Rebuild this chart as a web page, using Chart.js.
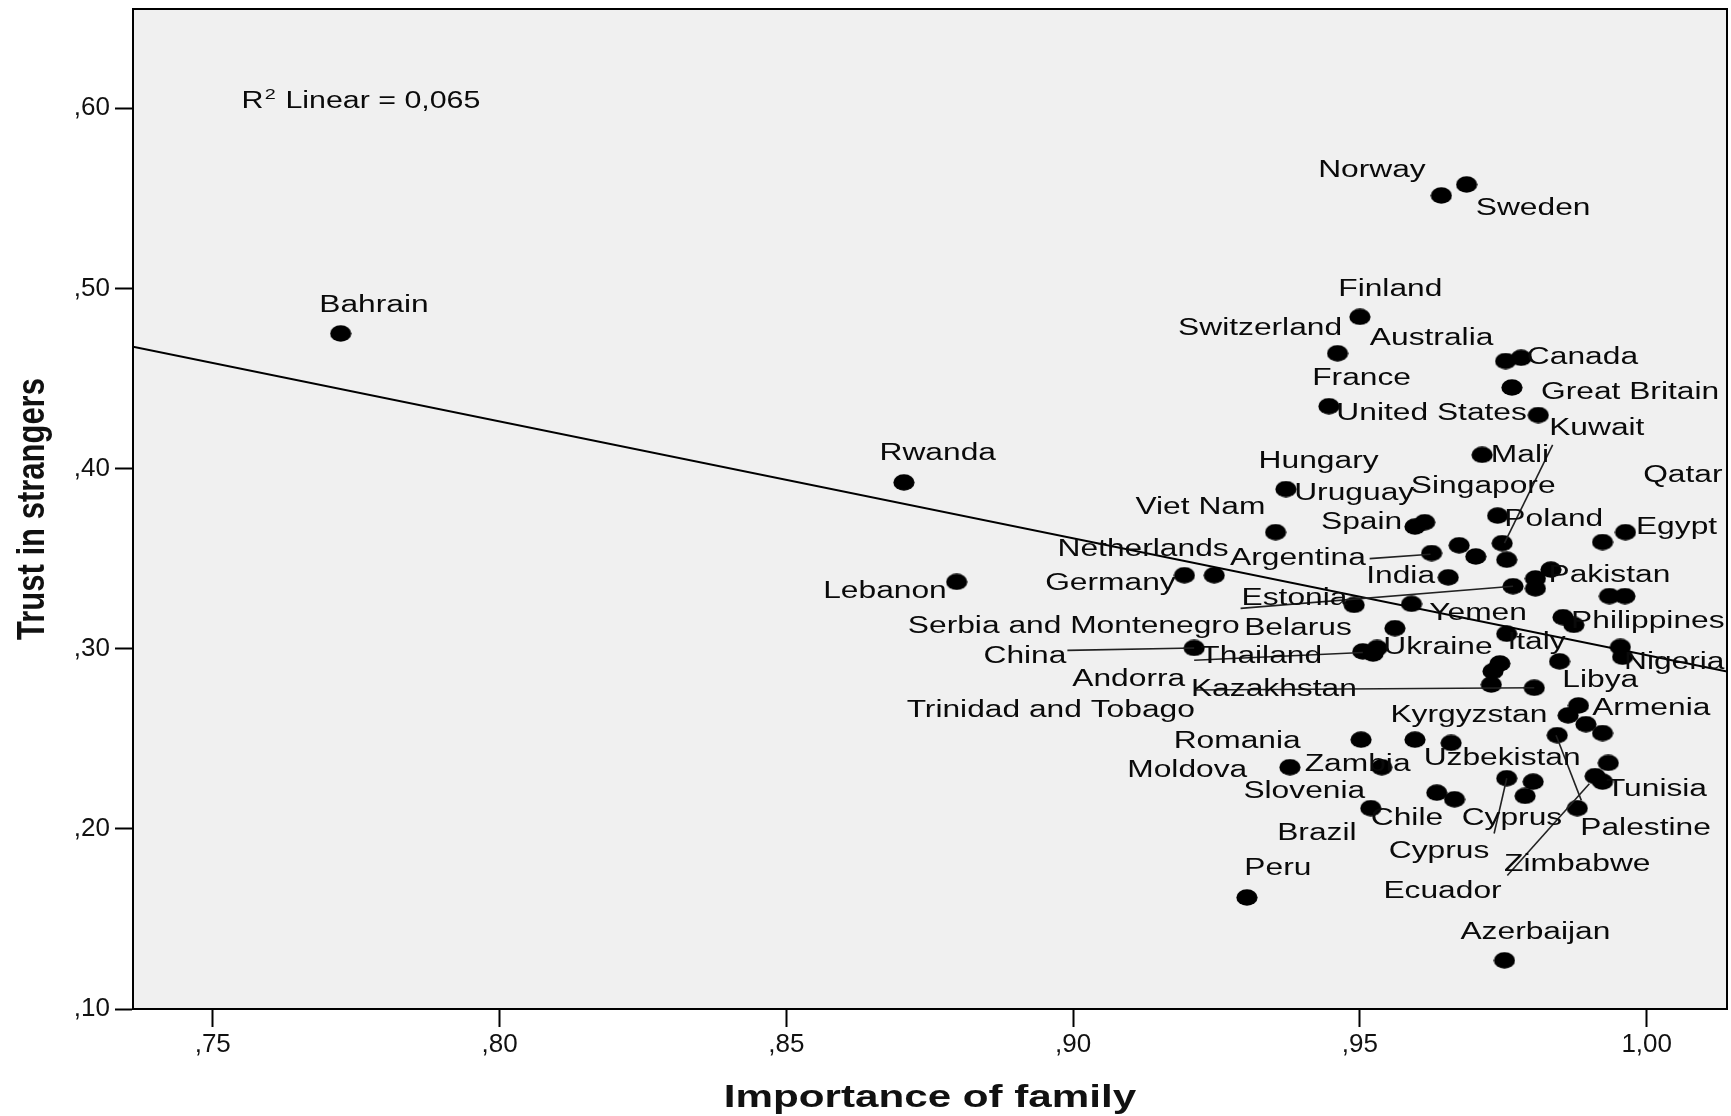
<!DOCTYPE html>
<html>
<head>
<meta charset="utf-8">
<title>Trust in strangers vs Importance of family</title>
<script src="https://cdn.jsdelivr.net/npm/chart.js@4.4.1/dist/chart.umd.min.js"></script>
<style>
    body { margin: 0; background: #ffffff; }
    #chart { display: block; }
</style>
</head>
<body>
<canvas id="chart" width="1731" height="1116"></canvas>
<script>
// Country means: importance of family (x) and trust in strangers (y)
const familyImportance = [
    0.7723, 0.8705, 0.8797, 0.9642, 0.9686, 0.9500, 0.9461, 0.9754, 0.9781, 0.9765,
    0.9446, 0.9811, 0.9713, 0.9371, 0.9353, 0.9596, 0.9613, 0.9740, 0.9963, 0.9923,
    0.9748, 0.9625, 0.9673, 0.9702, 0.9756, 0.9246, 0.9194, 0.9654, 0.9490, 0.9590,
    0.9767, 0.9806, 0.9833, 0.9806, 0.9935, 0.9962, 0.9561, 0.9854, 0.9873, 0.9756,
    0.9211, 0.9505, 0.9530, 0.9523, 0.9954, 0.9958, 0.9744, 0.9732, 0.9729, 0.9848,
    0.9804, 0.9881, 0.9863, 0.9894, 0.9923, 0.9844, 0.9502, 0.9596, 0.9659, 0.9378,
    0.9538, 0.9933, 0.9910, 0.9923, 0.9756, 0.9802, 0.9788, 0.9634, 0.9665, 0.9519,
    0.9879, 0.9303, 0.9752
];
const strangerTrust = [
    0.4750, 0.3923, 0.3371, 0.5516, 0.5577, 0.4842, 0.4640, 0.4597, 0.4615, 0.4450,
    0.4346, 0.4297, 0.4076, 0.3886, 0.3647, 0.3678, 0.3702, 0.3739, 0.3647, 0.3592,
    0.3586, 0.3531, 0.3574, 0.3512, 0.3494, 0.3408, 0.3408, 0.3396, 0.3243, 0.3249,
    0.3347, 0.3390, 0.3439, 0.3335, 0.3292, 0.3292, 0.3114, 0.3175, 0.3132, 0.3083,
    0.3004, 0.2985, 0.3004, 0.2973, 0.3010, 0.2955, 0.2918, 0.2875, 0.2801, 0.2930,
    0.2783, 0.2685, 0.2630, 0.2581, 0.2532, 0.2520, 0.2495, 0.2495, 0.2477, 0.2342,
    0.2342, 0.2366, 0.2293, 0.2262, 0.2281, 0.2262, 0.2183, 0.2201, 0.2164, 0.2115,
    0.2115, 0.1619, 0.1270
];

// Country labels, placed (centre of text) in data units
const labelNames = [
    'Bahrain', 'Rwanda', 'Lebanon', 'Norway', 'Sweden', 'Finland', 'Switzerland', 'Australia',
    'Canada', 'France', 'United States', 'Great Britain', 'Kuwait', 'Mali', 'Hungary', 'Uruguay',
    'Qatar', 'Singapore', 'Viet Nam', 'Spain', 'Poland', 'Egypt', 'Netherlands', 'Argentina',
    'India', 'Pakistan', 'Germany', 'Estonia', 'Yemen', 'Philippines', 'Serbia and Montenegro',
    'Belarus', 'Italy', 'China', 'Thailand', 'Ukraine', 'Nigeria', 'Andorra', 'Libya',
    'Kazakhstan', 'Armenia', 'Trinidad and Tobago', 'Kyrgyzstan', 'Romania', 'Zambia',
    'Uzbekistan', 'Moldova', 'Slovenia', 'Tunisia', 'Chile', 'Cyprus', 'Palestine', 'Brazil',
    'Cyprus', 'Zimbabwe', 'Peru', 'Ecuador', 'Azerbaijan'
];
const labelX = [
    0.7781, 0.8764, 0.8672, 0.9521, 0.9802, 0.9553, 0.9326, 0.9625,
    0.9888, 0.9503, 0.9625, 0.9971, 0.9913, 0.9779, 0.9428, 0.9490,
    1.0063, 0.9715, 0.9222, 0.9503, 0.9838, 1.0052, 0.9122, 0.9392,
    0.9571, 0.9935, 0.9065, 0.9386, 0.9706, 1.0002, 0.9001,
    0.9392, 0.9808, 0.8916, 0.9328, 0.9636, 1.0048, 0.9097, 0.9919,
    0.9350, 1.0008, 0.8961, 0.9690, 0.9286, 0.9496,
    0.9748, 0.9199, 0.9403, 1.0017, 0.9582, 0.9765, 0.9998, 0.9425,
    0.9638, 0.9879, 0.9357, 0.9644, 0.9806
];
const labelY = [
    0.4903, 0.4082, 0.3316, 0.5651, 0.5442, 0.4995, 0.4775, 0.4719,
    0.4615, 0.4499, 0.4303, 0.4419, 0.4223, 0.4070, 0.4039, 0.3862,
    0.3960, 0.3898, 0.3782, 0.3702, 0.3714, 0.3672, 0.3549, 0.3500,
    0.3402, 0.3407, 0.3359, 0.3279, 0.3196, 0.3151, 0.3120,
    0.3114, 0.3034, 0.2955, 0.2955, 0.3004, 0.2924, 0.2829, 0.2820,
    0.2771, 0.2667, 0.2654, 0.2630, 0.2483, 0.2354,
    0.2391, 0.2324, 0.2207, 0.2219, 0.2054, 0.2054, 0.1999, 0.1974,
    0.1876, 0.1803, 0.1778, 0.1650, 0.1423
];

// Leader lines from labels to their points (data units)
const leaderFromX = [0.9836, 0.9517, 0.9292, 0.8990, 0.9211, 0.9211, 0.9756, 0.9842, 0.9900];
const leaderFromY = [0.4131, 0.3500, 0.3224, 0.2991, 0.2936, 0.2771, 0.2281, 0.2520, 0.2250];
const leaderToX   = [0.9752, 0.9623, 0.9767, 0.9211, 0.9505, 0.9804, 0.9734, 0.9886, 0.9757];
const leaderToY   = [0.3586, 0.3524, 0.3347, 0.3004, 0.2979, 0.2783, 0.1974, 0.2158, 0.1741];

// Linear fit line end points and R squared
const fitX = [0.7361, 1.0140];
const fitY = [0.4676, 0.2873];
const rSquared = '0,065';

// Axis ticks and ranges
const xTicks = [0.75, 0.80, 0.85, 0.90, 0.95, 1.00];
const yTicks = [0.10, 0.20, 0.30, 0.40, 0.50, 0.60];
const xRange = [0.7361, 1.0140];
const yRange = [0.10, 0.6551];

const FONT = '"Liberation Sans", Arial, sans-serif';
const STRETCH = 1.38; // text in the original is drawn wider than normal

// Draw a text string stretched horizontally
function drawWideText(ctx, text, x, y, stretch) {
    ctx.save();
    ctx.translate(x, y);
    ctx.scale(stretch, 1);
    ctx.fillText(text, 0, 0);
    ctx.restore();
}

// Slightly wide black dot used as marker
function makeDot() {
    const c = document.createElement('canvas');
    c.width = 22;
    c.height = 17;
    const g = c.getContext('2d');
    g.fillStyle = '#000';
    g.beginPath();
    g.ellipse(11, 8.5, 10.6, 8.2, 0, 0, Math.PI * 2);
    g.fill();
    return c;
}

// Comma decimal tick format: ,60 / 1,00
function commaTick(value) {
    return value.toFixed(2).replace('.', ',').replace(/^0/, '');
}

// Keep the plot frame where the original has it (no extra label padding)
function noLabelPadding(axis) {
    axis.paddingTop = 0;
    axis.paddingBottom = 0;
    axis.paddingLeft = 0;
    axis.paddingRight = 0;
}

const plotDecor = {
    id: 'plotDecor',
    beforeDatasetsDraw(chart) {
        const { ctx, chartArea: a } = chart;
        ctx.save();
        ctx.fillStyle = '#f0f0f0';
        ctx.fillRect(a.left, a.top, a.right - a.left, a.bottom - a.top);
        ctx.restore();
    },
    afterDatasetsDraw(chart) {
        const { ctx, scales } = chart;
        const sx = scales.x, sy = scales.y;

        // leader lines
        ctx.save();
        ctx.strokeStyle = '#222';
        ctx.lineWidth = 1.6;
        for (let i = 0; i < leaderFromX.length; i++) {
            ctx.beginPath();
            ctx.moveTo(sx.getPixelForValue(leaderFromX[i]), sy.getPixelForValue(leaderFromY[i]));
            ctx.lineTo(sx.getPixelForValue(leaderToX[i]), sy.getPixelForValue(leaderToY[i]));
            ctx.stroke();
        }
        ctx.restore();

        // country labels
        ctx.save();
        ctx.fillStyle = '#0a0a0a';
        ctx.font = '23px ' + FONT;
        ctx.textAlign = 'center';
        ctx.textBaseline = 'middle';
        labelNames.forEach((name, i) => {
            drawWideText(ctx, name, sx.getPixelForValue(labelX[i]), sy.getPixelForValue(labelY[i]), STRETCH);
        });

        // R squared note
        ctx.textAlign = 'left';
        ctx.textBaseline = 'alphabetic';
        const x = sx.getPixelForValue(0.755);
        const y = sy.getPixelForValue(0.6049) + 9;
        ctx.save();
        ctx.translate(x, y);
        ctx.scale(1.32, 1);
        ctx.font = '23px ' + FONT;
        ctx.fillText('R', 0, 0);
        let w = ctx.measureText('R').width;
        ctx.font = '15px ' + FONT;
        ctx.fillText('2', w + 1, -9);
        w += ctx.measureText('2').width + 2;
        ctx.font = '23px ' + FONT;
        ctx.fillText(' Linear = ' + rSquared, w, 0);
        ctx.restore();
        ctx.restore();
    },
    afterDraw(chart) {
        const { ctx, chartArea: a } = chart;
        // frame round the plot
        ctx.save();
        ctx.strokeStyle = '#000';
        ctx.lineWidth = 2;
        ctx.strokeRect(a.left, a.top, a.right - a.left, a.bottom - a.top);

        // axis titles
        ctx.fillStyle = '#111';
        ctx.font = 'bold 31px ' + FONT;
        ctx.textAlign = 'center';
        ctx.textBaseline = 'middle';
        drawWideText(ctx, 'Importance of family', (a.left + a.right) / 2, chart.height - 18, 1.36);

        ctx.translate(33, (a.top + a.bottom) / 2);
        ctx.rotate(-Math.PI / 2);
        ctx.scale(1, 1.25);
        ctx.fillText('Trust in strangers', 0, 0);
        ctx.restore();
    }
};

const ctx = document.getElementById('chart');

new Chart(ctx, {
    type: 'scatter',
    data: {
        datasets: [
            {
                label: 'Countries',
                data: familyImportance.map((x, i) => ({ x: x, y: strangerTrust[i] })),
                pointStyle: makeDot(),
                pointRadius: 8,
                pointHoverRadius: 8
            },
            {
                type: 'line',
                label: 'Linear fit',
                data: fitX.map((x, i) => ({ x: x, y: fitY[i] })),
                borderColor: '#000',
                borderWidth: 2,
                pointRadius: 0,
                fill: false
            }
        ]
    },
    options: {
        responsive: false,
        animation: false,
        devicePixelRatio: 1,
        layout: {
            autoPadding: false,
            padding: { top: 9, right: 4, left: 0, bottom: 0 }
        },
        plugins: {
            legend: { display: false },
            tooltip: { enabled: false }
        },
        scales: {
            x: {
                type: 'linear',
                min: xRange[0],
                max: xRange[1],
                afterBuildTicks: axis => { axis.ticks = xTicks.map(v => ({ value: v })); },
                afterFit: axis => { axis.height = 107; noLabelPadding(axis); },
                ticks: {
                    callback: commaTick,
                    color: '#111',
                    font: { family: FONT, size: 26 },
                    padding: 2,
                    maxRotation: 0
                },
                grid: {
                    drawOnChartArea: false,
                    drawTicks: true,
                    tickLength: 18,
                    tickColor: '#000',
                    tickWidth: 2
                },
                border: { color: '#000', width: 2 }
            },
            y: {
                type: 'linear',
                min: yRange[0],
                max: yRange[1],
                afterBuildTicks: axis => { axis.ticks = yTicks.map(v => ({ value: v })); },
                afterFit: axis => { axis.width = 133; noLabelPadding(axis); },
                ticks: {
                    callback: commaTick,
                    color: '#111',
                    font: { family: FONT, size: 26 },
                    padding: 5
                },
                grid: {
                    drawOnChartArea: false,
                    drawTicks: true,
                    tickLength: 18,
                    tickColor: '#000',
                    tickWidth: 2
                },
                border: { color: '#000', width: 2 }
            }
        }
    },
    plugins: [plotDecor]
});
</script>
</body>
</html>
